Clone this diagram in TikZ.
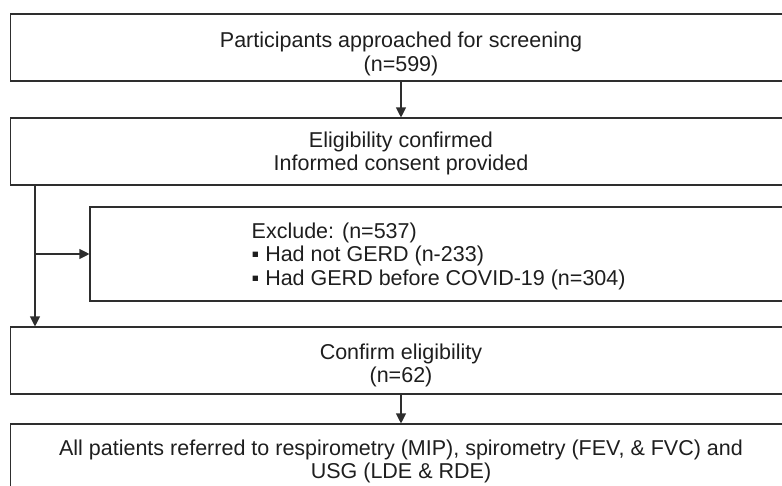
\documentclass[tikz,border=0pt]{standalone}
\usepackage{fontspec}
\setmainfont{Liberation Sans}
\usetikzlibrary{arrows.meta}
\definecolor{linec}{HTML}{2E2E2E}
\definecolor{textc}{HTML}{1E1E1E}
\newcommand{\topstrut}{\rule{0pt}{16pt}}
\newcommand{\botstrut}{\rule[-6pt]{0pt}{6pt}}
\tikzset{
  box/.style={draw=linec, line width=1.1pt, minimum width=781pt, minimum height=67pt, inner sep=0pt},
  txt/.style={inner sep=0pt, text=textc, align=center, font=\fontsize{21.5}{23.5}\selectfont},
  arr/.style={draw=linec, line width=1.1pt, -{Triangle[length=10pt,width=10pt]}}
}
\begin{document}
\begin{tikzpicture}[x=1pt,y=-1pt]
\useasboundingbox (0,0) rectangle (782,485);
\clip (0,0) rectangle (782,485);
\node[box] (b1) at (401,47.5) {};
\node[txt] (t1) at (401,54.45) {\topstrut Participants approached for screening\\(n=599)\botstrut};
\node[box] (b2) at (401,151.5) {};
\node[txt] (t2) at (401,154) {\topstrut Eligibility confirmed\\Informed consent provided\botstrut};
\node[box, minimum width=702pt, minimum height=94pt] (b3) at (441,254) {};
\node[txt, align=left, anchor=west] (t3) at (251.5,256.8) {\topstrut Exclude: (n=537)\\▪ Had not GERD (n-233)\\▪ Had GERD before COVID-19 (n=304)\botstrut};
\node[box] (b4) at (401,360.5) {};
\node[txt] (t4) at (401,366) {\topstrut Confirm eligibility\\(n=62)\botstrut};
\node[box] (b5) at (401,457.5) {};
\node[txt] (t5) at (401,461.75) {\topstrut All patients referred to respirometry (MIP), spirometry (FEV, \& FVC) and\\USG (LDE \& RDE)\botstrut};
\coordinate (vx) at (35,0);
\draw[arr] (b1.south) -- (b2.north);
\draw[arr] (b2.south -| vx) -- (b4.north -| vx);
\draw[arr] (b3.west -| vx) -- (b3.west);
\draw[arr] (b4.south) -- (b5.north);
\end{tikzpicture}
\end{document}
